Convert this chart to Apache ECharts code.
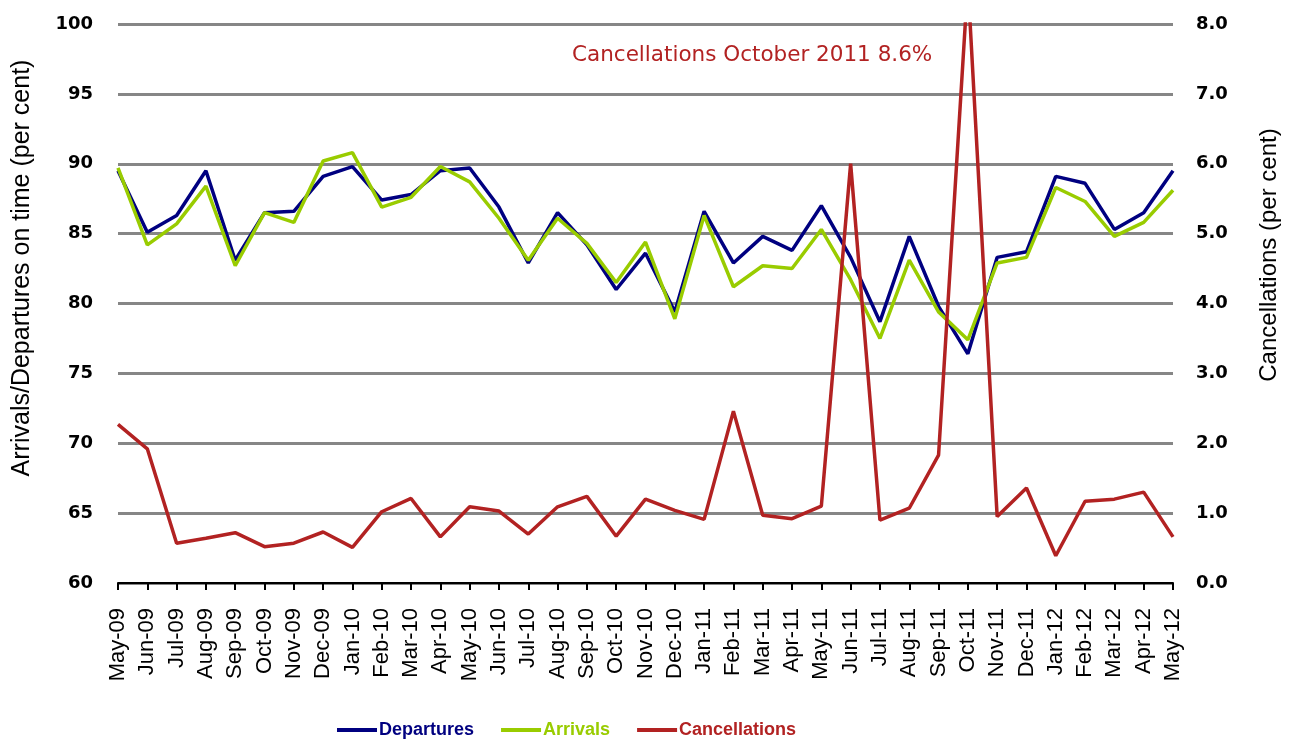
<!DOCTYPE html>
<html>
<head>
<meta charset="utf-8">
<script src="https://cdn.jsdelivr.net/npm/echarts@6/dist/echarts.min.js"></script>
<style>html,body{margin:0;padding:0;background:#fff;}#c{width:1292px;height:740px;}</style>
</head>
<body>
<div id="c"></div>
<script>
var months = ['May-09','Jun-09','Jul-09','Aug-09','Sep-09','Oct-09','Nov-09','Dec-09','Jan-10','Feb-10','Mar-10','Apr-10','May-10','Jun-10','Jul-10','Aug-10','Sep-10','Oct-10','Nov-10','Dec-10','Jan-11','Feb-11','Mar-11','Apr-11','May-11','Jun-11','Jul-11','Aug-11','Sep-11','Oct-11','Nov-11','Dec-11','Jan-12','Feb-12','Mar-12','Apr-12','May-12'];
var departures = [89.5, 85.1, 86.3, 89.5, 83.1, 86.5, 86.6, 89.1, 89.8, 87.4, 87.8, 89.5, 89.7, 86.9, 82.9, 86.5, 84.2, 81.0, 83.6, 79.4, 86.6, 82.9, 84.8, 83.8, 87.0, 83.3, 78.7, 84.8, 79.8, 76.4, 83.3, 83.7, 89.1, 88.6, 85.3, 86.5, 89.5];
var arrivals = [89.7, 84.2, 85.7, 88.4, 82.7, 86.5, 85.8, 90.2, 90.8, 86.9, 87.6, 89.8, 88.7, 86.1, 83.1, 86.1, 84.3, 81.5, 84.4, 78.9, 86.3, 81.2, 82.7, 82.5, 85.3, 81.7, 77.5, 83.1, 79.4, 77.4, 82.9, 83.3, 88.3, 87.3, 84.8, 85.8, 88.1];
var cancellations = [2.27, 1.92, 0.57, 0.64, 0.72, 0.52, 0.57, 0.73, 0.51, 1.02, 1.21, 0.66, 1.09, 1.03, 0.70, 1.09, 1.24, 0.67, 1.20, 1.04, 0.91, 2.46, 0.97, 0.92, 1.10, 6.0, 0.90, 1.07, 1.83, 8.6, 0.95, 1.36, 0.39, 1.17, 1.20, 1.30, 0.66];
var leftTitle = 'Arrivals/Departures on time (per cent)';
var rightTitle = 'Cancellations (per cent)';
var note = 'Cancellations October 2011 8.6%';

var C_DEP = '#000080', C_ARR = '#99CC00', C_CAN = '#B22222';
var chart = echarts.init(document.getElementById('c'), null, {renderer: 'canvas'});
chart.setOption({
  animation: false,
  backgroundColor: '#ffffff',
  grid: {left: 118, right: 119, top: 24, bottom: 157, containLabel: false},
  legend: {
    left: 332, top: 716, itemWidth: 40, itemHeight: 4, itemGap: 27, icon: 'rect',
    data: [
      {name: 'Departures', textStyle: {color: C_DEP}},
      {name: 'Arrivals', textStyle: {color: C_ARR}},
      {name: 'Cancellations', textStyle: {color: C_CAN}}
    ],
    textStyle: {fontFamily: 'Liberation Sans', fontWeight: 'bold', fontSize: 18, padding: [0, 0, 0, -3]}
  },
  xAxis: {
    type: 'category', data: months, boundaryGap: false,
    axisLine: {lineStyle: {color: '#000', width: 2}},
    axisTick: {show: true, length: 7, interval: 0, lineStyle: {color: '#000', width: 2}},
    axisLabel: {interval: 0, rotate: 90, margin: 25, color: '#000', fontFamily: 'Liberation Sans', fontSize: 22}
  },
  yAxis: [{
    type: 'value', min: 60, max: 100, interval: 5,
    axisLine: {show: false}, axisTick: {show: false},
    axisLabel: {margin: 25, color: '#000', fontFamily: 'DejaVu Sans', fontWeight: 'bold', fontSize: 18},
    splitLine: {lineStyle: {color: '#868686', width: 3}}
  }, {
    type: 'value', min: 0, max: 8, interval: 1, position: 'right',
    axisLine: {show: false}, axisTick: {show: false},
    axisLabel: {margin: 23, color: '#000', fontFamily: 'DejaVu Sans', fontWeight: 'bold', fontSize: 18,
      formatter: function (v) { return v.toFixed(1); }},
    splitLine: {show: false}
  }],
  graphic: [{
    type: 'text', x: 22, y: 268, rotation: Math.PI / 2,
    style: {text: leftTitle, fill: '#000', font: '25px "Liberation Sans"', textAlign: 'center', textVerticalAlign: 'middle'}
  }, {
    type: 'text', x: 1269, y: 255, rotation: Math.PI / 2,
    style: {text: rightTitle, fill: '#000', font: '24px "Liberation Sans"', textAlign: 'center', textVerticalAlign: 'middle'}
  }, {
    type: 'text', x: 572, y: 55,
    style: {text: note, fill: C_CAN, font: '21.5px "DejaVu Sans"', textAlign: 'left', textVerticalAlign: 'middle'}
  }],
  series: [{
    name: 'Departures', type: 'line', data: departures, yAxisIndex: 0,
    symbol: 'none', lineStyle: {color: C_DEP, width: 3.5}, itemStyle: {color: C_DEP}
  }, {
    name: 'Arrivals', type: 'line', data: arrivals, yAxisIndex: 0,
    symbol: 'none', lineStyle: {color: C_ARR, width: 3.5}, itemStyle: {color: C_ARR}
  }, {
    name: 'Cancellations', type: 'line', data: cancellations, yAxisIndex: 1,
    symbol: 'none', clip: true, lineStyle: {color: C_CAN, width: 3.5}, itemStyle: {color: C_CAN}
  }]
});
</script>
</body>
</html>
